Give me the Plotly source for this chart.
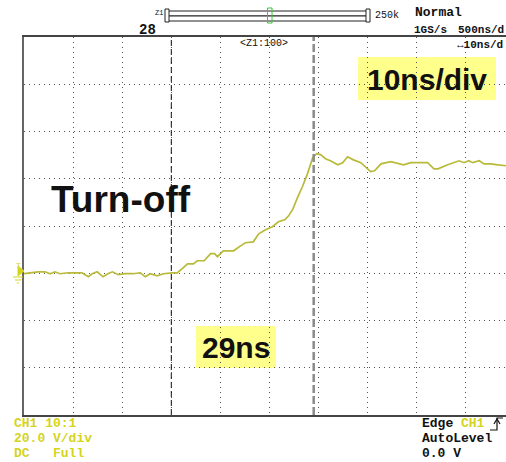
import plotly.graph_objects as go

# ---- data (time in ns, voltage in V) ----
time_ns = [0, 1.2, 2.9, 4.3, 5.3, 6.3, 7.3, 9.0, 10.4, 11.8, 13.1, 13.9, 14.9, 16.1, 17.1,
           18.0, 19.2, 20.6, 22.2, 23.7, 24.7, 25.7, 27.1, 28.4, 30.2,
           31.2, 32.4, 33.3, 34.5, 35.3, 36.7, 38.0, 38.8, 39.4, 40.6, 42.7, 44.1, 45.1,
           46.7, 47.8, 49.2, 50.6, 51.8, 53.1, 53.9, 54.7, 55.7, 56.7, 57.8, 58.8, 59.6,
           60.4, 61.4, 62.4, 63.9, 64.9, 65.9, 67.1, 68.6, 69.6, 70.6, 71.4, 72.7, 74.7,
           75.7, 77.3, 78.8, 80.8, 82.2, 83.5, 84.3, 86.3, 87.6, 88.6, 89.6, 90.6, 91.4,
           92.7, 93.7, 95.1, 96.5, 98.2]
volts = [-0.2, 0.2, 0.6, 0.6, -0.2, 0.6, -0.2, 0.2, 0.2, 0.2, -1.5, -0.2, 0.6, -1.5, -0.2,
         0.6, -0.6, -0.2, -0.2, 0.2, -1.5, -0.2, -1.1, -0.2, 0.2,
         0.2, 2.3, 4.0, 4.0, 5.3, 5.3, 8.3, 8.3, 7.0, 9.5, 9.5, 11.6, 12.9,
         13.3, 16.7, 18.4, 19.7, 21.8, 22.6, 24.3, 26.9, 32.0, 36.6, 42.5, 48.9, 50.6,
         50.2, 48.5, 47.6, 45.9, 46.8, 49.3, 48.0, 46.8, 44.7, 43.0, 43.4, 46.3, 47.2,
         46.8, 45.9, 46.8, 46.8, 46.8, 44.2, 44.2, 45.9, 46.8, 47.6, 46.8, 47.6, 46.8,
         47.6, 46.3, 46.3, 45.9, 45.5]
cursor_ns = [30, 59]
x_ticks = [0, 10, 20, 30, 40, 50, 60, 70, 80, 90]      # 10 ns/div
y_ticks = [-60, -40, -20, 0, 20, 40, 60, 80, 100]      # 20 V/div

# ---- geometry helpers ----
W, H = 506, 462
L, T, B = 24, 37, 47
PW, PH = W - L, H - T - B


def px(x):
    return (x - L) / PW


def py(y):
    return (H - B - y) / PH


YEL = "#d4d41e"
TRACE = "#b9b93a"

fig = go.Figure()
fig.add_trace(go.Scatter(x=time_ns, y=volts, mode="lines",
                         line=dict(color=TRACE, width=1.7), hoverinfo="skip",
                         showlegend=False))

shapes = []
# yellow highlight boxes
shapes.append(dict(type="rect", xref="paper", yref="paper", layer="below",
                   x0=px(358), x1=px(496), y0=py(100), y1=py(57),
                   fillcolor="#ffff8c", line=dict(width=0)))
shapes.append(dict(type="rect", xref="paper", yref="paper", layer="below",
                   x0=px(196), x1=px(276), y0=py(368), y1=py(326),
                   fillcolor="#ffff8c", line=dict(width=0)))
# cursors
shapes.append(dict(type="line", xref="x", yref="paper", x0=cursor_ns[0], x1=cursor_ns[0],
                   y0=0, y1=1, line=dict(color="#111", width=1, dash="6px,3px")))
shapes.append(dict(type="line", xref="x", yref="paper", x0=cursor_ns[1], x1=cursor_ns[1],
                   y0=0, y1=1, line=dict(color="#8a8a8a", width=2.5, dash="8px,3px")))
# zoom bar on top
for (x0, x1, y0, y1) in [(168, 367, 11, 16), (168, 367, 16, 21), (165, 169, 9, 22), (366, 370, 9, 22)]:
    shapes.append(dict(type="rect", xref="paper", yref="paper",
                       x0=px(x0), x1=px(x1), y0=py(y1), y1=py(y0),
                       fillcolor="white", line=dict(color="#222", width=1)))
shapes.append(dict(type="rect", xref="paper", yref="paper",
                   x0=px(267.5), x1=px(272), y0=py(23), y1=py(8),
                   fillcolor="rgba(0,0,0,0)", line=dict(color="#33cc33", width=1)))
# trigger level marker (left)
shapes.append(dict(type="path", xref="paper", yref="paper",
                   path=f"M {px(18)},{py(266)} L {px(24)},{py(271)} L {px(18)},{py(276)} Z",
                   fillcolor=YEL, line=dict(color=YEL, width=1)))
for (x0, x1, yy) in [(13, 23, 277), (15, 21, 280), (17, 19, 283)]:
    shapes.append(dict(type="line", xref="paper", yref="paper",
                       x0=px(x0), x1=px(x1), y0=py(yy), y1=py(yy),
                       line=dict(color=YEL, width=1)))
# trigger edge symbol (bottom right)
shapes.append(dict(type="path", xref="paper", yref="paper",
                   path=f"M {px(490)},{py(430)} L {px(497)},{py(430)} L {px(497)},{py(418)} L {px(503)},{py(418)}",
                   line=dict(color="#111", width=1.2)))
shapes.append(dict(type="path", xref="paper", yref="paper",
                   path=f"M {px(494)},{py(424)} L {px(497)},{py(419)} L {px(500)},{py(424)}",
                   line=dict(color="#111", width=1.2)))

MONO = "Liberation Mono"
ann = []


def text(x, y, s, size=13, color="#111", family=MONO, xanchor="left", bold=False):
    if bold:
        s = f"<b>{s}</b>"
    ann.append(dict(x=px(x), y=py(y), xref="paper", yref="paper", text=s, showarrow=False,
                    xanchor=xanchor, yanchor="middle",
                    font=dict(size=size, color=color, family=family)))


text(159, 13, "Z1", size=7, xanchor="center")
text(373, 15, "250k", size=10)
text(413, 12, "Normal", size=13, bold=True)
text(137, 30, "28", size=14, bold=True)
text(412, 30, "1GS/s", size=11, bold=True)
text(456, 30, "500ns/d", size=11, bold=True)
text(264, 44, "<Z1:100>", size=10, xanchor="center")
text(455, 45, "↔10ns/d", size=11, bold=True)

text(427, 79, "10ns/div", size=30, family="Liberation Sans", xanchor="center", bold=True)
text(236, 347, "29ns", size=30, family="Liberation Sans", xanchor="center", bold=True)
text(121, 199, "Turn-off", size=37, family="Liberation Sans", xanchor="center", bold=True)

text(12, 423, "CH1 10:1", size=13, color=YEL, bold=True)
text(12, 438, "20.0 V/div", size=13, color=YEL, bold=True)
text(12, 453, "DC   Full", size=13, color=YEL, bold=True)
text(420, 423, "Edge <span style='color:%s'>CH1</span>" % YEL, size=13, bold=True)
text(420, 438, "AutoLevel", size=13, bold=True)
text(420, 453, "0.0 V", size=13, bold=True)
text(14, 265, "T", size=8, color=YEL)

fig.update_layout(
    width=W, height=H,
    margin=dict(l=L, r=0, t=T, b=B, pad=0, autoexpand=False),
    paper_bgcolor="white", plot_bgcolor="white",
    shapes=shapes, annotations=ann, showlegend=False,
    xaxis=dict(range=[0, PW / 4.91], tickvals=x_ticks, showticklabels=False, ticks="",
               showgrid=True, gridcolor="#555", gridwidth=1, griddash="1px,4px",
               zeroline=False, showline=True, linecolor="#444", linewidth=2, mirror=True,
               automargin=False),
    yaxis=dict(range=[-60, 100], tickvals=y_ticks, showticklabels=False, ticks="",
               showgrid=True, gridcolor="#555", gridwidth=1, griddash="1px,4px",
               zeroline=False, showline=True, linecolor="#666", linewidth=2, mirror=False,
               automargin=False),
)

fig.write_html("out.html", config={"displayModeBar": False},
               post_script="document.body.style.margin='0';document.body.style.overflow='hidden';")
